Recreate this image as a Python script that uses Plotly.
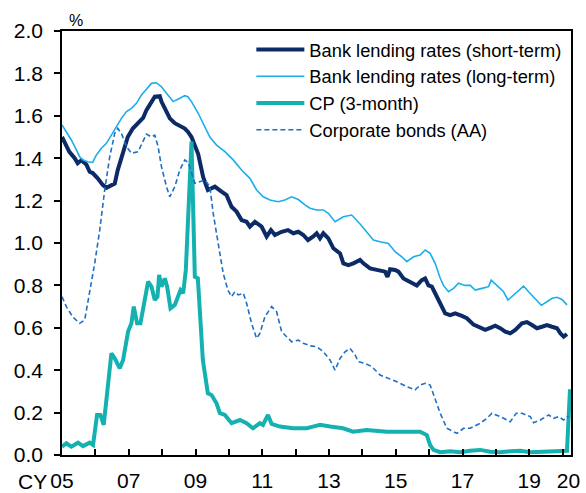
import plotly.graph_objects as go

# ---------------- data (decimal calendar years, % values) ----------------
short_x = [2005.0, 2005.22, 2005.38, 2005.47, 2005.58, 2005.73, 2005.83, 2005.92, 2006.07, 2006.22,
           2006.33, 2006.43, 2006.58, 2006.67, 2006.82, 2006.97, 2007.12, 2007.28, 2007.43, 2007.53,
           2007.63, 2007.78, 2007.93, 2007.98, 2008.13, 2008.23, 2008.38, 2008.58, 2008.68, 2008.77,
           2008.88, 2009.08, 2009.23, 2009.37, 2009.58, 2009.78, 2009.93, 2010.08, 2010.23, 2010.38,
           2010.53, 2010.63, 2010.78, 2010.98, 2011.13, 2011.26, 2011.38, 2011.58, 2011.77, 2011.93,
           2012.08, 2012.23, 2012.37, 2012.52, 2012.63, 2012.73, 2012.83, 2012.98, 2013.13, 2013.33,
           2013.43, 2013.58, 2013.73, 2013.93, 2014.03, 2014.23, 2014.43, 2014.68, 2014.75, 2014.83,
           2014.98, 2015.08, 2015.23, 2015.43, 2015.63, 2015.78, 2015.88, 2015.98, 2016.08, 2016.18,
           2016.33, 2016.48, 2016.63, 2016.78, 2016.98, 2017.13, 2017.33, 2017.48, 2017.68, 2017.83,
           2017.98, 2018.13, 2018.28, 2018.43, 2018.58, 2018.78, 2018.93, 2019.08, 2019.23, 2019.38,
           2019.53, 2019.68, 2019.83, 2019.93, 2020.03, 2020.13]
short_y = [1.50, 1.43, 1.40, 1.376, 1.39, 1.37, 1.336, 1.33, 1.305, 1.274,
           1.26, 1.266, 1.28, 1.344, 1.42, 1.50, 1.54, 1.565, 1.59, 1.627,
           1.65, 1.69, 1.693, 1.667, 1.62, 1.588, 1.565, 1.55, 1.54, 1.525,
           1.50, 1.42, 1.31, 1.25, 1.266, 1.242, 1.226, 1.171, 1.148, 1.108,
           1.10, 1.077, 1.10, 1.077, 1.03, 1.061, 1.038, 1.053, 1.061, 1.046,
           1.053, 1.038, 1.014, 1.03, 1.046, 1.022, 1.046, 1.022, 0.975, 0.951,
           0.904, 0.896, 0.904, 0.92, 0.904, 0.88, 0.873, 0.865, 0.84, 0.876,
           0.873, 0.865, 0.833, 0.818, 0.80, 0.825, 0.833, 0.80, 0.794, 0.763,
           0.716, 0.668, 0.66, 0.668, 0.656, 0.645, 0.615, 0.602, 0.59, 0.60,
           0.61, 0.598, 0.582, 0.574, 0.59, 0.621, 0.627, 0.613, 0.598, 0.605,
           0.613, 0.605, 0.598, 0.574, 0.558, 0.57]

long_x = [2005.0, 2005.13, 2005.28, 2005.43, 2005.53, 2005.62, 2005.77, 2005.92, 2006.03, 2006.18,
          2006.33, 2006.48, 2006.63, 2006.78, 2006.93, 2007.08, 2007.23, 2007.38, 2007.53, 2007.68,
          2007.83, 2007.98, 2008.13, 2008.33, 2008.53, 2008.68, 2008.77, 2008.88, 2009.08, 2009.23,
          2009.43, 2009.63, 2009.88, 2010.13, 2010.38, 2010.63, 2010.83, 2011.03, 2011.23, 2011.48,
          2011.68, 2011.88, 2012.08, 2012.28, 2012.43, 2012.63, 2012.83, 2012.98, 2013.18, 2013.43,
          2013.68, 2013.93, 2014.13, 2014.33, 2014.53, 2014.78, 2014.98, 2015.18, 2015.33, 2015.53,
          2015.73, 2015.88, 2016.03, 2016.18, 2016.33, 2016.43, 2016.58, 2016.73, 2016.88, 2017.08,
          2017.23, 2017.38, 2017.58, 2017.78, 2017.86, 2018.03, 2018.23, 2018.36, 2018.48, 2018.68,
          2018.83, 2018.98, 2019.18, 2019.36, 2019.53, 2019.68, 2019.83, 2019.98, 2020.13]
long_y = [1.557, 1.525, 1.486, 1.439, 1.407, 1.392, 1.383, 1.38, 1.415, 1.447,
          1.47, 1.509, 1.549, 1.588, 1.62, 1.635, 1.659, 1.698, 1.725, 1.753,
          1.756, 1.737, 1.706, 1.667, 1.683, 1.695, 1.69, 1.667, 1.612, 1.565,
          1.50, 1.462, 1.431, 1.392, 1.344, 1.305, 1.25, 1.218, 1.203, 1.195,
          1.203, 1.218, 1.205, 1.18, 1.164, 1.156, 1.156, 1.14, 1.10, 1.124,
          1.132, 1.09, 1.053, 1.014, 1.006, 0.998, 0.959, 0.935, 0.912, 0.935,
          0.943, 0.967, 0.951, 0.904, 0.835, 0.80, 0.77, 0.786, 0.81, 0.80,
          0.80, 0.778, 0.786, 0.794, 0.825, 0.80, 0.77, 0.731, 0.747, 0.778,
          0.797, 0.77, 0.734, 0.706, 0.723, 0.739, 0.744, 0.734, 0.708]

cp_x = [2005.0, 2005.13, 2005.28, 2005.48, 2005.63, 2005.83, 2005.93, 2006.05, 2006.15, 2006.25,
        2006.48, 2006.58, 2006.73, 2006.83, 2006.98, 2007.08, 2007.15, 2007.25, 2007.35, 2007.48,
        2007.58, 2007.68, 2007.78, 2007.86, 2007.91, 2007.98, 2008.08, 2008.15, 2008.25, 2008.38,
        2008.48, 2008.55, 2008.63, 2008.71, 2008.88, 2008.98, 2009.07, 2009.22, 2009.37, 2009.48,
        2009.63, 2009.73, 2009.88, 2009.97, 2010.08, 2010.33, 2010.53, 2010.72, 2010.93, 2011.02,
        2011.17, 2011.28, 2011.53, 2011.92, 2012.33, 2012.52, 2012.73, 2013.03, 2013.42, 2013.72,
        2014.13, 2014.73, 2015.73, 2015.93, 2016.03, 2016.13, 2016.33, 2016.63, 2016.93, 2017.23,
        2017.53, 2017.83, 2018.13, 2018.43, 2018.73, 2019.03, 2019.33, 2019.63, 2019.93, 2020.13,
        2020.22]
cp_y = [0.039, 0.055, 0.039, 0.058, 0.042, 0.058, 0.047, 0.189, 0.189, 0.142,
        0.48, 0.456, 0.409, 0.448, 0.582, 0.621, 0.70, 0.621, 0.621, 0.731,
        0.818, 0.794, 0.731, 0.747, 0.849, 0.794, 0.833, 0.794, 0.692, 0.708,
        0.747, 0.778, 0.763, 0.873, 1.478, 0.841, 0.834, 0.448, 0.291, 0.283,
        0.244, 0.197, 0.189, 0.173, 0.15, 0.165, 0.15, 0.126, 0.15, 0.142,
        0.189, 0.147, 0.134, 0.126, 0.126, 0.134, 0.142, 0.134, 0.126, 0.11,
        0.118, 0.11, 0.11, 0.094, 0.047, 0.024, 0.013, 0.018, 0.013, 0.02,
        0.024, 0.015, 0.013, 0.018, 0.02, 0.013, 0.015, 0.013, 0.018, 0.02,
        0.31]

bond_x = [2005.0, 2005.13, 2005.32, 2005.53, 2005.68, 2005.83, 2005.98, 2006.13, 2006.28, 2006.43,
          2006.58, 2006.67, 2006.78, 2006.93, 2007.08, 2007.28, 2007.43, 2007.53, 2007.68, 2007.78,
          2007.88, 2007.98, 2008.13, 2008.23, 2008.38, 2008.53, 2008.68, 2008.78, 2008.98, 2009.13,
          2009.28, 2009.43, 2009.53, 2009.68, 2009.83, 2009.97, 2010.08, 2010.18, 2010.28, 2010.43,
          2010.53, 2010.68, 2010.83, 2010.93, 2011.08, 2011.28, 2011.43, 2011.58, 2011.73, 2011.88,
          2012.08, 2012.23, 2012.43, 2012.63, 2012.83, 2013.03, 2013.18, 2013.33, 2013.48, 2013.63,
          2013.78, 2013.88, 2014.08, 2014.28, 2014.53, 2014.78, 2015.03, 2015.33, 2015.58, 2015.73,
          2015.88, 2016.03, 2016.18, 2016.33, 2016.53, 2016.83, 2017.03, 2017.23, 2017.53, 2017.73,
          2017.88, 2018.13, 2018.43, 2018.61, 2018.78, 2019.03, 2019.13, 2019.33, 2019.58, 2019.73,
          2019.88, 2020.03, 2020.18]
bond_y = [0.747, 0.70, 0.652, 0.621, 0.637, 0.763, 0.904, 1.061, 1.25, 1.407,
          1.517, 1.541, 1.517, 1.454, 1.423, 1.431, 1.486, 1.514, 1.50, 1.509,
          1.454, 1.36, 1.266, 1.218, 1.266, 1.344, 1.392, 1.38, 1.282, 1.29,
          1.297, 1.266, 1.14, 0.998, 0.857, 0.778, 0.747, 0.77, 0.755, 0.763,
          0.716, 0.621, 0.55, 0.574, 0.652, 0.70, 0.676, 0.582, 0.558, 0.534,
          0.542, 0.527, 0.515, 0.511, 0.487, 0.448, 0.40, 0.456, 0.487, 0.503,
          0.472, 0.44, 0.432, 0.417, 0.377, 0.362, 0.346, 0.322, 0.307, 0.33,
          0.338, 0.33, 0.259, 0.197, 0.126, 0.102, 0.126, 0.126, 0.15, 0.173,
          0.197, 0.181, 0.157, 0.197, 0.197, 0.181, 0.152, 0.165, 0.189, 0.173,
          0.181, 0.165, 0.184]

tick_years = list(range(2005, 2021))
tick_text = ["05", "", "07", "", "09", "", "11", "", "13", "", "15", "", "17", "", "19", "\u00a0\u00a020"]
y_ticks = [0.0, 0.2, 0.4, 0.6, 0.8, 1.0, 1.2, 1.4, 1.6, 1.8, 2.0]

names = ["Bank lending rates (short-term)", "Bank lending rates (long-term)",
         "CP (3-month)", "Corporate bonds (AA)"]

# ---------------- figure ----------------
FONT = "Arial, 'Liberation Sans', sans-serif"
fig = go.Figure()
fig.add_trace(go.Scatter(x=short_x, y=short_y, mode="lines", name=names[0],
                         line=dict(color="#0B2A66", width=4)))
fig.add_trace(go.Scatter(x=long_x, y=long_y, mode="lines", name=names[1],
                         line=dict(color="#1AAEEB", width=1.6)))
fig.add_trace(go.Scatter(x=cp_x, y=cp_y, mode="lines", name=names[2],
                         line=dict(color="#15B1B1", width=4)))
fig.add_trace(go.Scatter(x=bond_x, y=bond_y, mode="lines", name=names[3],
                         line=dict(color="#1F6FC4", width=1.6, dash="5px,3px")))

fig.update_layout(
    width=586, height=493,
    margin=dict(l=62, r=15, t=31, b=38),
    paper_bgcolor="white", plot_bgcolor="white",
    font=dict(family=FONT, color="black"),
    showlegend=True,
    legend=dict(x=0.372, y=1.0, xanchor="left", yanchor="top",
                bgcolor="rgba(0,0,0,0)", borderwidth=0, itemwidth=48,
                font=dict(size=18.3, family=FONT, color="black"),
                tracegroupgap=0),
    xaxis=dict(range=[2005, 2020.25], tickmode="array", tickvals=tick_years, ticktext=tick_text,
               ticks="inside", ticklen=6, tickwidth=1.5, tickcolor="black",
               showline=True, linecolor="black", linewidth=1.5, mirror=True,
               showgrid=False, zeroline=False, ticklabelstandoff=6, automargin=False,
               tickfont=dict(size=21, family=FONT, color="black")),
    yaxis=dict(range=[0, 2.0], tickmode="array", tickvals=y_ticks, tickformat=".1f",
               ticks="outside", ticklen=6, tickwidth=1.5, tickcolor="black",
               showline=True, linecolor="black", linewidth=1.5, mirror=True,
               showgrid=False, zeroline=False, ticklabelstandoff=7, automargin=False,
               tickfont=dict(size=21, family=FONT, color="black")),
)

fig.add_annotation(text="%", xref="paper", yref="paper", x=0.027, y=1.0, yshift=11,
                   showarrow=False, xanchor="center", yanchor="middle",
                   font=dict(size=16, family=FONT, color="black"))
fig.add_annotation(text="CY", xref="paper", yref="paper", x=-0.057, y=0, yshift=-26,
                   showarrow=False, xanchor="center", yanchor="middle",
                   font=dict(size=21, family=FONT, color="black"))

fig.write_html("out.html",
               config={"displayModeBar": False},
               post_script="document.body.style.margin='0';"
                           "document.documentElement.style.overflow='hidden';")
